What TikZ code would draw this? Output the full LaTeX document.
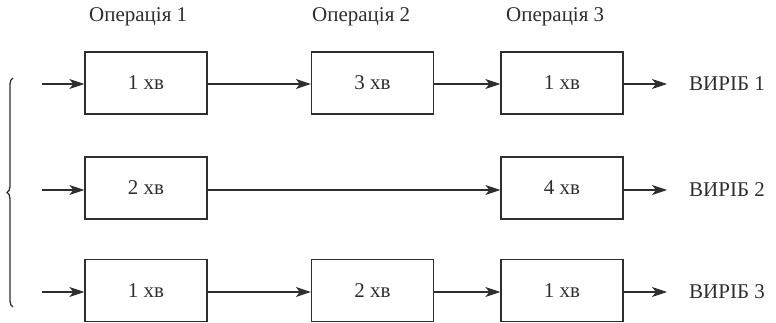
\documentclass[tikz,border=0pt]{standalone}
\usepackage{fontspec}
\setmainfont{Liberation Serif}
\usetikzlibrary{arrows.meta,decorations.pathreplacing}
\definecolor{ink}{HTML}{2E2E2E}
\begin{document}
\begin{tikzpicture}[x=1pt,y=-1pt,
  opbox/.style={draw=ink,line width=1.3pt,minimum width=122pt,minimum height=62pt,inner sep=0pt,text=ink,font=\fontsize{21}{24}\selectfont},
  flow/.style={draw=ink,line width=1.2pt,-{Stealth[length=15pt,width=10pt,inset=4pt]}},
  lbl/.style={text=ink,font=\fontsize{21}{24}\selectfont,inner sep=0pt}]
\useasboundingbox (0,0) rectangle (776,323);
% headers
\node[lbl,anchor=west] (h1) at (89,17) {Операція 1};
\node[lbl,anchor=west] (h2) at (312,17) {Операція 2};
\node[lbl,anchor=west] (h3) at (506,17) {Операція 3};
% row 1
\node[opbox] (a1) at (146,83) {1 хв};
\node[opbox] (a2) at (372.5,83) {3 хв};
\node[opbox] (a3) at (562,83) {1 хв};
% row 2
\node[opbox] (b1) at (146,188) {2 хв};
\node[opbox] (b3) at (562,188) {4 хв};
% row 3
\node[opbox] (c1) at (146,290.5) {1 хв};
\node[opbox] (c2) at (372.5,290.5) {2 хв};
\node[opbox] (c3) at (562,290.5) {1 хв};
% outputs
\node[lbl,anchor=west] (o1) at (689,84) {ВИРІБ 1};
\node[lbl,anchor=west] (o2) at (689,190) {ВИРІБ 2};
\node[lbl,anchor=west] (o3) at (689,292) {ВИРІБ 3};
% input start points
\coordinate (s1) at (42,84);
\coordinate (s2) at (42,190);
\coordinate (s3) at (42,292);
\coordinate (e1) at (667,84);
\coordinate (e2) at (667,190);
\coordinate (e3) at (667,292);
% arrows
\draw[flow] (s1) -- (s1 -| a1.west);
\draw[flow] (s2) -- (s2 -| b1.west);
\draw[flow] (s3) -- (s3 -| c1.west);
\draw[flow] (s1 -| a1.east) -- (s1 -| a2.west);
\draw[flow] (s1 -| a2.east) -- (s1 -| a3.west);
\draw[flow] (s1 -| a3.east) -- (e1);
\draw[flow] (s2 -| b1.east) -- (s2 -| b3.west);
\draw[flow] (s2 -| b3.east) -- (e2);
\draw[flow] (s3 -| c1.east) -- (s3 -| c2.west);
\draw[flow] (s3 -| c2.east) -- (s3 -| c3.west);
\draw[flow] (s3 -| c3.east) -- (e3);
% brace
\coordinate (bt) at (13,78);
\coordinate (bb) at (13,307);
\draw[draw=ink,line width=1.3pt,decorate,decoration={brace,amplitude=6pt}] (bb) -- (bt);
\end{tikzpicture}
\end{document}
